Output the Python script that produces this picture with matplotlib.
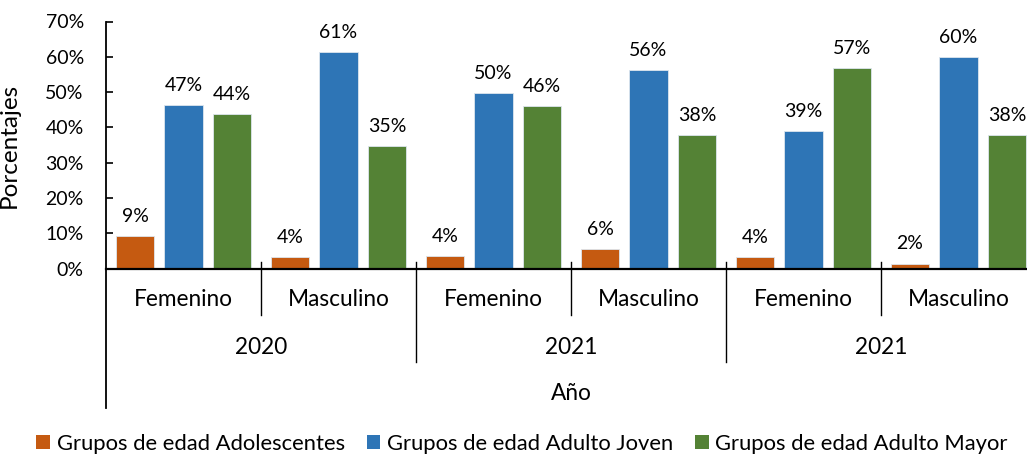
import numpy as np
import matplotlib
matplotlib.use("Agg")
import matplotlib.pyplot as plt
from matplotlib.patches import Patch
from matplotlib.ticker import PercentFormatter
import matplotlib.transforms as mtransforms

plt.rcParams['font.family'] = ['Lato', 'DejaVu Sans']

sexes = ["Femenino", "Masculino", "Femenino", "Masculino", "Femenino", "Masculino"]
years = ["2020", "2021", "2021"]
series_names = ["Grupos de edad Adolescentes", "Grupos de edad Adulto Joven", "Grupos de edad Adulto Mayor"]
adolescentes = [0.091, 0.033, 0.035, 0.054, 0.033, 0.014]
adulto_joven = [0.464, 0.613, 0.498, 0.562, 0.390, 0.598]
adulto_mayor = [0.438, 0.346, 0.460, 0.379, 0.569, 0.379]
labels_ad = ["9%", "4%", "4%", "6%", "4%", "2%"]
labels_aj = ["47%", "61%", "50%", "56%", "39%", "60%"]
labels_am = ["44%", "35%", "46%", "38%", "57%", "38%"]
colors = ["#C55A11", "#2E75B6", "#548235"]

W, H = 1027, 454
fig = plt.figure(figsize=(W/100, H/100), dpi=100)
ax_left, ax_right = 106, 1036
ax_bottom, ax_top = 268.5, 21.5
ax = fig.add_axes([ax_left/W, 1-ax_bottom/H, (ax_right-ax_left)/W, (ax_bottom-ax_top)/H])

n = len(sexes)
centers = np.arange(n) + 0.5
bw = 0.248
step = 0.313
data = [adolescentes, adulto_joven, adulto_mayor]
labs = [labels_ad, labels_aj, labels_am]
for i, (vals, lab, c) in enumerate(zip(data, labs, colors)):
    xs = centers + (i-1)*step
    ax.bar(xs, vals, width=bw, color=c, edgecolor='#dde6ee', linewidth=0.6, zorder=2)
    for x, v, t in zip(xs, vals, lab):
        ax.annotate(t, (x, v), xytext=(0, 8), textcoords='offset points',
                    ha='center', va='bottom', fontsize=14, color='black')

ax.set_xlim(0, n)
ax.set_ylim(0, 0.7)
ax.yaxis.set_major_formatter(PercentFormatter(1.0, decimals=0))
ax.set_yticks(np.arange(0, 0.71, 0.1))
ax.tick_params(axis='y', direction='in', length=5, width=1.2, labelsize=14, pad=16)
ax.set_xticks([])
for s in ['top', 'right']:
    ax.spines[s].set_visible(False)
ax.spines['left'].set_linewidth(1.3)
ax.spines['bottom'].set_linewidth(1.6)
ax.set_ylabel("Porcentajes", fontsize=17.5)
ax.yaxis.set_label_coords((20-ax_left)/(ax_right-ax_left), 0.5)

trans = mtransforms.blended_transform_factory(ax.transData, fig.transFigure)
def fy(py):
    return 1 - py/H

# left spine extension
ax.plot([0, 0], [fy(ax_bottom), fy(408)], transform=trans, color='black', lw=1.3, clip_on=False)
# separators
for xb in range(1, n+1):
    bottom = 362 if xb % 2 == 0 else 315
    ax.plot([xb, xb], [fy(262), fy(bottom)], transform=trans, color='black', lw=1.0, clip_on=False)

for c, s in zip(centers, sexes):
    ax.text(c, fy(300), s, transform=trans, ha='center', va='center', fontsize=16.3)
for j, y in enumerate(years):
    ax.text(2*j+1, fy(348), y, transform=trans, ha='center', va='center', fontsize=16.3)
ax.text(3, fy(393), "Año", transform=trans, ha='center', va='center', fontsize=16.3)

handles = [Patch(facecolor=c, edgecolor='none') for c in colors]
fig.legend(handles, series_names, loc='center', bbox_to_anchor=(522/W, fy(444)), ncol=3,
           frameon=False, fontsize=15.8, handlelength=0.62, handleheight=0.62,
           handletextpad=0.3, columnspacing=1.0, borderaxespad=0, borderpad=0)

fig.savefig("out.png", dpi=100)
